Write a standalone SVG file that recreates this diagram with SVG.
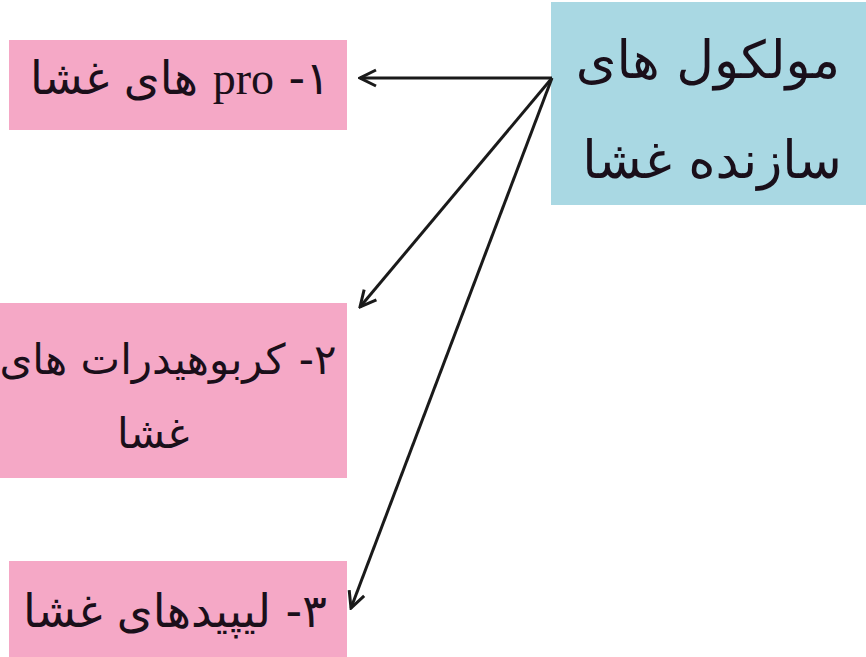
<svg xmlns="http://www.w3.org/2000/svg" width="866" height="657" viewBox="0 0 866 657">
<defs>
<style>
.pink{fill:#f5a8c6}
.blue{fill:#a9d8e3}
.t{font-family:"DejaVu Sans","Noto Sans",sans-serif;font-size:42px;fill:#1a0f1a;direction:rtl;unicode-bidi:embed}
.c{stroke:#1a1a1a;stroke-width:3;fill:none}
</style>
<marker id="ah" viewBox="0 0 20 20" refX="18" refY="10" markerWidth="20" markerHeight="20" markerUnits="userSpaceOnUse" orient="auto">
<path d="M2,2 L18,10 L2,18" fill="none" stroke="#1a1a1a" stroke-width="3"/>
</marker>
</defs>
<rect width="866" height="657" fill="#ffffff"/>
<g id="root">
<rect class="blue" x="551" y="2" width="315" height="203"/>
<text class="t" x="708" y="78" text-anchor="middle" style="font-size:52px">مولکول های</text>
<text class="t" x="712" y="178" text-anchor="middle" style="font-size:52px">سازنده غشا</text>
</g>
<g id="n1">
<rect class="pink" x="9" y="40" width="338" height="90"/>
<text class="t" x="180" y="94" text-anchor="middle" style="font-size:46px">۱- <tspan style="font-family:'Liberation Serif',serif">pro</tspan> های غشا</text>
</g>
<g id="n2">
<rect class="pink" x="0" y="303" width="347" height="175"/>
<text class="t" x="168" y="374" text-anchor="middle">۲- کربوهیدرات های</text>
<text class="t" x="153" y="448" text-anchor="middle">غشا</text>
</g>
<g id="n3">
<rect class="pink" x="9" y="561" width="338" height="96"/>
<text class="t" x="175" y="627" text-anchor="middle" style="font-size:46px">۳- لیپیدهای غشا</text>
</g>
<g id="connectors">
<line class="c" x1="552" y1="78" x2="360" y2="78" marker-end="url(#ah)"/>
<line class="c" x1="552" y1="78" x2="360" y2="307" marker-end="url(#ah)"/>
<line class="c" x1="552" y1="78" x2="351" y2="608" marker-end="url(#ah)"/>
</g>
</svg>
